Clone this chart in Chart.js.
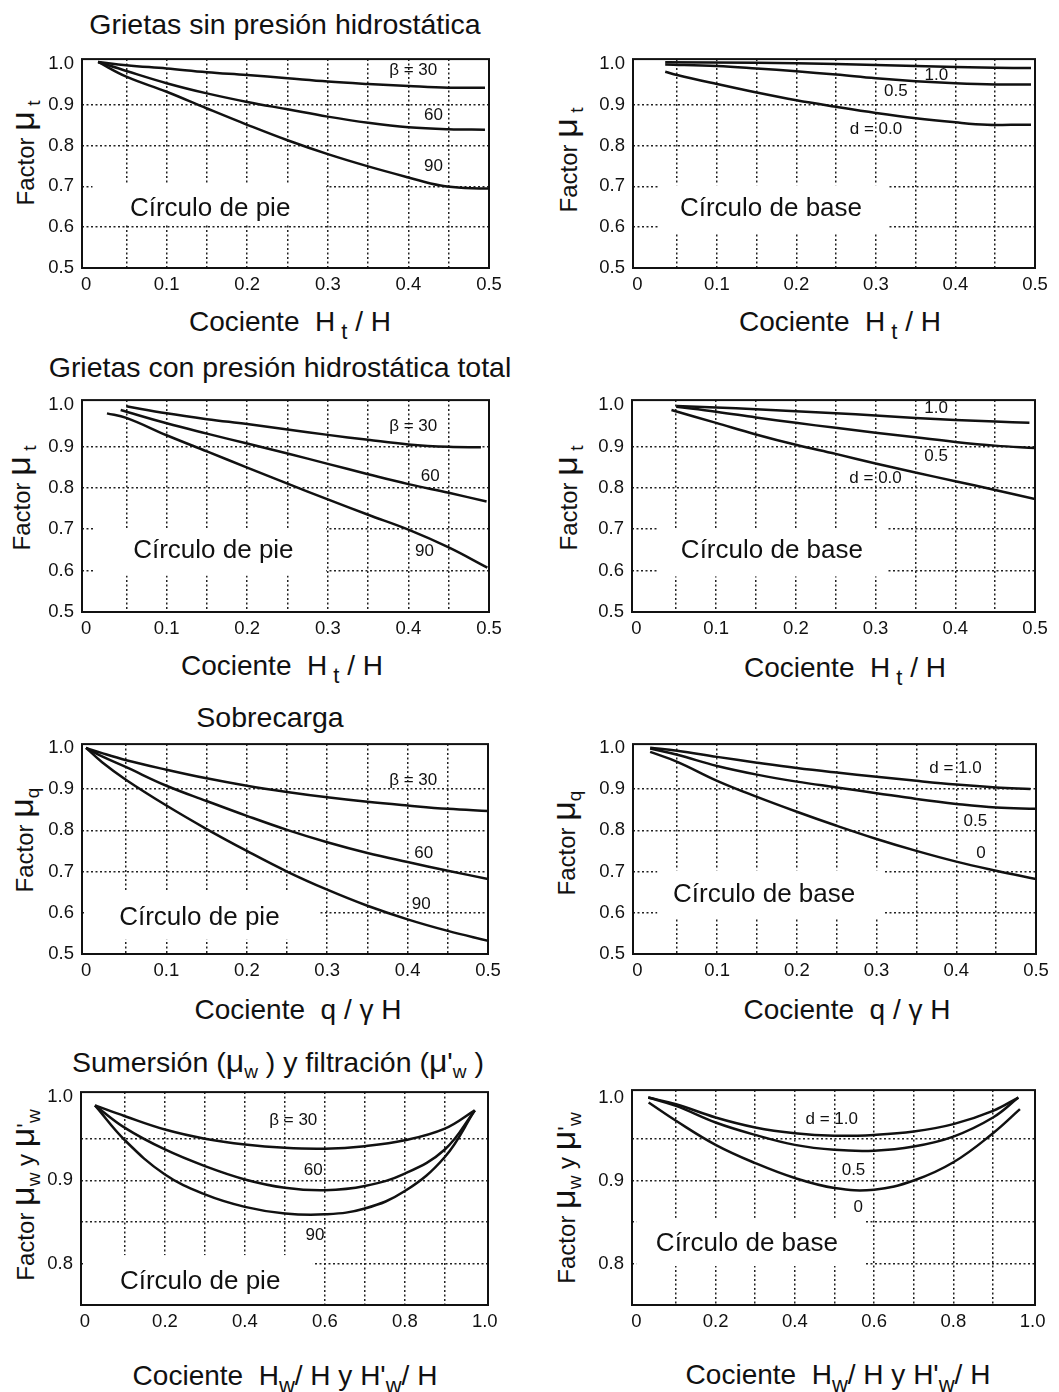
<!DOCTYPE html>
<html>
<head>
<meta charset="utf-8">
<script src="https://cdn.jsdelivr.net/npm/chart.js@4.4.0/dist/chart.umd.min.js"></script>
<style>
  body { margin: 0; background: #fff; }
  #page { position: relative; width: 1059px; height: 1392px; overflow: hidden; background: #fff; }
  canvas { position: absolute; }
  .t { position: absolute; white-space: nowrap; line-height: 1; color: #111;
       font-family: "Liberation Sans", Arial, sans-serif; transform: translate(-50%, -50%); }
  .ttl { font-size: 28.5px; }
  .xt { font-size: 28px; }
  .yt { font-size: 24px; transform: translate(-50%, -50%) rotate(-90deg); }
  .mu { font-size: 34px; }
  .mus { font-size: 32px; }
  .sb { font-size: 19px; position: relative; top: 6px; }
  .sbx { font-size: 22px; position: relative; top: 8px; }
</style>
</head>
<body>
<div id="page">
  <div class="t ttl" style="left:285px; top:24px;">Grietas sin presión hidrostática</div>
  <div class="t ttl" style="left:280px; top:367px;">Grietas con presión hidrostática total</div>
  <div class="t ttl" style="left:270px; top:717px;">Sobrecarga</div>
  <div class="t ttl" style="left:278px; top:1061px;">Sumersión (<span class="mus">μ</span><span class="sb">w</span> ) y filtración (<span class="mus">μ</span>'<span class="sb">w</span> )</div>

  <div class="t xt" style="left:290px; top:322px;">Cociente&nbsp; H<span class="sbx"> t</span> / H</div>
  <div class="t xt" style="left:840px; top:322px;">Cociente&nbsp; H<span class="sbx"> t</span> / H</div>
  <div class="t xt" style="left:282px; top:666px;">Cociente&nbsp; H<span class="sbx"> t</span> / H</div>
  <div class="t xt" style="left:845px; top:668px;">Cociente&nbsp; H<span class="sbx"> t</span> / H</div>
  <div class="t xt" style="left:298px; top:1010px;">Cociente&nbsp; q / γ H</div>
  <div class="t xt" style="left:847px; top:1010px;">Cociente&nbsp; q / γ H</div>
  <div class="t xt" style="left:285px; top:1376px;">Cociente&nbsp; H<span class="sbx">w</span>/ H y H'<span class="sbx">w</span>/ H</div>
  <div class="t xt" style="left:838px; top:1375px;">Cociente&nbsp; H<span class="sbx">w</span>/ H y H'<span class="sbx">w</span>/ H</div>

  <div class="t yt" style="left:22px; top:153px;">Factor <span class="mu">μ</span><span class="sb"> t</span></div>
  <div class="t yt" style="left:565px; top:160px;">Factor <span class="mu">μ</span><span class="sb"> t</span></div>
  <div class="t yt" style="left:18px; top:498px;">Factor <span class="mu">μ</span><span class="sb"> t</span></div>
  <div class="t yt" style="left:565px; top:498px;">Factor <span class="mu">μ</span><span class="sb"> t</span></div>
  <div class="t yt" style="left:21px; top:840px;">Factor <span class="mu">μ</span><span class="sb">q</span></div>
  <div class="t yt" style="left:563px; top:843px;">Factor <span class="mu">μ</span><span class="sb">q</span></div>
  <div class="t yt" style="left:22px; top:1195px;">Factor <span class="mu">μ</span><span class="sb">w</span> y <span class="mu">μ</span>'<span class="sb">w</span></div>
  <div class="t yt" style="left:563px; top:1198px;">Factor <span class="mu">μ</span><span class="sb">w</span> y <span class="mu">μ</span>'<span class="sb">w</span></div>
</div>
<script>
// ---- tick / grid values ----
const xLabelsHalf = [0, 0.1, 0.2, 0.3, 0.4, 0.5];
const xGridHalf = [0.05, 0.1, 0.15, 0.2, 0.25, 0.3, 0.35, 0.4, 0.45];
const yLabelsHalf = [0.5, 0.6, 0.7, 0.8, 0.9, 1.0];
const yGridHalf = [0.6, 0.7, 0.8, 0.9];
const xLabelsFull = [0, 0.2, 0.4, 0.6, 0.8, 1.0];
const xGridFull = [0.1, 0.2, 0.3, 0.4, 0.5, 0.6, 0.7, 0.8, 0.9];
const yLabelsQuarter = [0.8, 0.9, 1.0];
const yGridQuarter = [0.8, 0.85, 0.9, 0.95];

// ---- curves [x, y] ----
// grietas sin presion, circulo de pie (beta = 30, 60, 90)
const sinPie30 = [[0.015,1.005],[0.05,0.997],[0.1,0.989],[0.15,0.98],[0.2,0.973],[0.25,0.965],[0.3,0.957],[0.35,0.951],[0.4,0.946],[0.45,0.942],[0.495,0.942]];
const sinPie60 = [[0.015,1.005],[0.05,0.983],[0.1,0.953],[0.15,0.928],[0.2,0.907],[0.25,0.889],[0.3,0.871],[0.35,0.856],[0.4,0.845],[0.45,0.84],[0.495,0.839]];
const sinPie90 = [[0.015,1.005],[0.05,0.969],[0.1,0.932],[0.15,0.891],[0.2,0.851],[0.25,0.813],[0.3,0.779],[0.35,0.749],[0.4,0.722],[0.44,0.702],[0.47,0.696],[0.5,0.695]];
// grietas sin presion, circulo de base (d = 1.0, 0.5, 0.0)
const sinBase10 = [[0.035,1.004],[0.15,1.003],[0.25,1.0],[0.35,0.995],[0.45,0.991],[0.495,0.99]];
const sinBase05 = [[0.035,0.999],[0.1,0.995],[0.15,0.989],[0.2,0.982],[0.25,0.974],[0.3,0.965],[0.35,0.958],[0.4,0.953],[0.45,0.95],[0.495,0.95]];
const sinBase00 = [[0.035,0.981],[0.05,0.973],[0.1,0.951],[0.15,0.93],[0.2,0.911],[0.25,0.895],[0.3,0.88],[0.35,0.867],[0.4,0.857],[0.44,0.851],[0.47,0.851],[0.495,0.851]];
// grietas con presion total, circulo de pie
const conPie30 = [[0.05,0.997],[0.1,0.98],[0.15,0.966],[0.2,0.954],[0.25,0.941],[0.3,0.928],[0.35,0.916],[0.4,0.905],[0.45,0.899],[0.49,0.898]];
const conPie60 = [[0.043,0.988],[0.1,0.956],[0.15,0.931],[0.2,0.907],[0.25,0.883],[0.3,0.858],[0.35,0.833],[0.4,0.809],[0.45,0.788],[0.497,0.767]];
const conPie90 = [[0.026,0.98],[0.05,0.969],[0.1,0.927],[0.15,0.888],[0.2,0.849],[0.25,0.81],[0.3,0.772],[0.35,0.735],[0.4,0.699],[0.45,0.656],[0.498,0.607]];
// grietas con presion total, circulo de base
const conBase10 = [[0.05,0.998],[0.1,0.994],[0.15,0.99],[0.2,0.985],[0.25,0.98],[0.3,0.975],[0.35,0.969],[0.4,0.964],[0.45,0.96],[0.493,0.957]];
const conBase05 = [[0.05,0.996],[0.1,0.984],[0.15,0.97],[0.2,0.957],[0.25,0.945],[0.3,0.933],[0.35,0.922],[0.4,0.911],[0.45,0.902],[0.5,0.896]];
const conBase00 = [[0.044,0.988],[0.1,0.957],[0.15,0.929],[0.2,0.904],[0.25,0.882],[0.3,0.859],[0.35,0.837],[0.4,0.816],[0.45,0.795],[0.5,0.773]];
// sobrecarga, circulo de pie
const sobPie30 = [[0,1.0],[0.02,0.987],[0.05,0.97],[0.1,0.947],[0.15,0.926],[0.2,0.908],[0.25,0.893],[0.3,0.88],[0.35,0.869],[0.4,0.86],[0.45,0.852],[0.5,0.847]];
const sobPie60 = [[0,1.0],[0.02,0.979],[0.05,0.953],[0.1,0.908],[0.15,0.871],[0.2,0.835],[0.25,0.801],[0.3,0.771],[0.35,0.745],[0.4,0.723],[0.45,0.702],[0.5,0.682]];
const sobPie90 = [[0,1.0],[0.02,0.965],[0.05,0.922],[0.1,0.86],[0.15,0.803],[0.2,0.75],[0.25,0.7],[0.3,0.656],[0.35,0.617],[0.4,0.584],[0.45,0.556],[0.5,0.532]];
// sobrecarga, circulo de base
const sobBase10 = [[0.016,1.0],[0.05,0.993],[0.1,0.978],[0.15,0.964],[0.2,0.951],[0.25,0.94],[0.3,0.93],[0.35,0.92],[0.4,0.911],[0.45,0.904],[0.493,0.9]];
const sobBase05 = [[0.016,0.998],[0.05,0.983],[0.1,0.956],[0.15,0.935],[0.2,0.918],[0.25,0.904],[0.3,0.89],[0.35,0.876],[0.4,0.864],[0.45,0.855],[0.5,0.852]];
const sobBase00 = [[0.016,0.99],[0.05,0.966],[0.1,0.92],[0.15,0.881],[0.2,0.845],[0.25,0.811],[0.3,0.779],[0.35,0.75],[0.4,0.724],[0.45,0.702],[0.5,0.682]];
// sumersion y filtracion, circulo de pie
const sumPie30 = [[0.025,0.99],[0.1,0.977],[0.2,0.961],[0.3,0.95],[0.4,0.943],[0.5,0.939],[0.6,0.938],[0.7,0.941],[0.8,0.948],[0.9,0.962],[0.975,0.984]];
const sumPie60 = [[0.025,0.99],[0.1,0.963],[0.2,0.937],[0.3,0.917],[0.4,0.901],[0.5,0.891],[0.6,0.888],[0.7,0.893],[0.8,0.908],[0.9,0.937],[0.975,0.984]];
const sumPie90 = [[0.025,0.99],[0.1,0.948],[0.2,0.907],[0.3,0.883],[0.4,0.868],[0.5,0.86],[0.6,0.859],[0.7,0.866],[0.8,0.887],[0.9,0.928],[0.975,0.984]];
// sumersion y filtracion, circulo de base
const sumBase10 = [[0.03,1.0],[0.1,0.992],[0.2,0.976],[0.3,0.964],[0.4,0.957],[0.5,0.954],[0.6,0.955],[0.7,0.959],[0.8,0.968],[0.9,0.984],[0.964,1.0]];
const sumBase05 = [[0.03,1.0],[0.1,0.99],[0.2,0.97],[0.3,0.955],[0.4,0.943],[0.5,0.937],[0.6,0.936],[0.7,0.941],[0.8,0.953],[0.9,0.976],[0.964,1.0]];
const sumBase00 = [[0.031,0.994],[0.1,0.972],[0.2,0.943],[0.3,0.921],[0.4,0.903],[0.5,0.891],[0.6,0.889],[0.7,0.9],[0.8,0.922],[0.9,0.957],[0.968,0.986]];

// ---- panels ----
const half = { xLabels: xLabelsHalf, xGrid: xGridHalf, yLabels: yLabelsHalf, yGrid: yGridHalf, yMin: 0.5 };
const full = { xLabels: xLabelsFull, xGrid: xGridFull, yLabels: yLabelsQuarter, yGrid: yGridQuarter, yMin: 0.75 };

const panels = [
  { rect: [82, 52, 489, 268], axes: half, xMin: -0.005, xMax: 0.5, yMax: 1.012,
    series: [sinPie30, sinPie60, sinPie90], blank: [0.008, 0.298, 0.607, 0.706],
    notes: [['β = 30', 0.406, 0.985, 17], ['60', 0.431, 0.875, 17], ['90', 0.431, 0.749, 17], ['Círculo de pie', 0.154, 0.646, 26]] },
  { rect: [633, 52, 1035, 268], axes: half, xMin: -0.0055, xMax: 0.5, yMax: 1.012,
    series: [sinBase10, sinBase05, sinBase00], blank: [0.027, 0.315, 0.585, 0.703],
    notes: [['1.0', 0.376, 0.972, 17], ['0.5', 0.325, 0.933, 17], ['d = 0.0', 0.3, 0.839, 17], ['Círculo de base', 0.168, 0.646, 26]] },
  { rect: [82, 393, 489, 612], axes: half, xMin: -0.005, xMax: 0.5, yMax: 1.012,
    series: [conPie30, conPie60, conPie90], blank: [0.01, 0.298, 0.588, 0.703],
    notes: [['β = 30', 0.406, 0.949, 17], ['60', 0.427, 0.828, 17], ['90', 0.42, 0.647, 17], ['Círculo de pie', 0.158, 0.647, 26]] },
  { rect: [632, 393, 1035, 612], axes: half, xMin: -0.0055, xMax: 0.5, yMax: 1.012,
    series: [conBase10, conBase05, conBase00], blank: [0.028, 0.315, 0.586, 0.703],
    notes: [['1.0', 0.376, 0.991, 17], ['0.5', 0.376, 0.875, 17], ['d = 0.0', 0.3, 0.824, 17], ['Círculo de base', 0.17, 0.647, 26]] },
  { rect: [82, 737, 488, 954], axes: half, xMin: -0.005, xMax: 0.5, yMax: 1.009,
    series: [sobPie30, sobPie60, sobPie90], blank: [0.0, 0.29, 0.535, 0.652],
    notes: [['β = 30', 0.407, 0.92, 17], ['60', 0.42, 0.744, 17], ['90', 0.417, 0.62, 17], ['Círculo de pie', 0.141, 0.588, 26]] },
  { rect: [633, 737, 1036, 954], axes: half, xMin: -0.0055, xMax: 0.5, yMax: 1.009,
    series: [sobBase10, sobBase05, sobBase00], blank: [0.025, 0.31, 0.585, 0.703],
    notes: [['d = 1.0', 0.399, 0.951, 17], ['0.5', 0.424, 0.822, 17], ['0', 0.431, 0.744, 17], ['Círculo de base', 0.159, 0.644, 26]] },
  { rect: [81, 1085, 488, 1305], axes: full, xMin: -0.01, xMax: 1.008, yMax: 1.006,
    series: [sumPie30, sumPie60, sumPie90], blank: [0.0, 0.57, 0.75, 0.81],
    notes: [['β = 30', 0.521, 0.972, 17], ['60', 0.571, 0.912, 17], ['90', 0.575, 0.834, 17], ['Círculo de pie', 0.288, 0.778, 26]] },
  { rect: [632, 1083, 1035, 1305], axes: full, xMin: -0.011, xMax: 1.006, yMax: 1.009,
    series: [sumBase10, sumBase05, sumBase00], blank: [0.0, 0.575, 0.797, 0.855],
    notes: [['d = 1.0', 0.493, 0.974, 17], ['0.5', 0.548, 0.912, 17], ['0', 0.56, 0.868, 17], ['Círculo de base', 0.279, 0.824, 26]] }
];

const FONT = '"Liberation Sans", Arial, sans-serif';
const PAD_L = 70, PAD_T = 12, PAD_R = 24, XAX_H = 34;

const near = (list, v) => list.some(g => Math.abs(g - v) < 1e-9);
const allTicks = (a, b) => a.concat(b).filter((v, i, arr) => arr.findIndex(w => Math.abs(w - v) < 1e-9) === i).sort((p, q) => p - q);

const framePlugin = {
  id: 'frame',
  beforeDatasetsDraw(chart, args, opts) {
    const { ctx, scales: { x, y } } = chart;
    const b = opts.blank;
    const x0 = x.getPixelForValue(b[0]), x1 = x.getPixelForValue(b[1]);
    const y0 = y.getPixelForValue(b[3]), y1 = y.getPixelForValue(b[2]);
    ctx.save();
    ctx.fillStyle = '#fff';
    ctx.fillRect(x0, y0, x1 - x0, y1 - y0);
    ctx.restore();
  },
  afterDatasetsDraw(chart, args, opts) {
    const { ctx, chartArea: a, scales: { x, y } } = chart;
    ctx.save();
    ctx.fillStyle = '#111';
    ctx.textAlign = 'center';
    ctx.textBaseline = 'middle';
    opts.notes.forEach(([txt, nx, ny, size]) => {
      ctx.font = size + 'px ' + FONT;
      ctx.fillText(txt, x.getPixelForValue(nx), y.getPixelForValue(ny));
    });
    ctx.strokeStyle = '#111';
    ctx.lineWidth = 2;
    ctx.strokeRect(a.left, a.top, a.right - a.left, a.bottom - a.top);
    ctx.restore();
  }
};

const page = document.getElementById('page');

panels.forEach((p, i) => {
  const [L, T, R, B] = p.rect;
  const cv = document.createElement('canvas');
  cv.width = R - L + PAD_L + PAD_R;
  cv.height = B - T + PAD_T + XAX_H;
  cv.style.left = (L - PAD_L) + 'px';
  cv.style.top = (T - PAD_T) + 'px';
  page.appendChild(cv);

  const ax = p.axes;
  const xVals = allTicks(ax.xLabels, ax.xGrid);
  const yVals = allTicks(ax.yLabels, ax.yGrid);

  new Chart(cv, {
    type: 'line',
    data: {
      datasets: p.series.map(s => ({
        data: s.map(([x, y]) => ({ x, y })),
        borderColor: '#111',
        borderWidth: 2.5,
        pointRadius: 0,
        fill: false,
        tension: 0.4
      }))
    },
    options: {
      responsive: false,
      animation: false,
      devicePixelRatio: 1,
      layout: { padding: { left: 0, top: PAD_T, right: PAD_R, bottom: 0 } },
      plugins: {
        legend: { display: false },
        tooltip: { enabled: false },
        frame: { blank: p.blank, notes: p.notes }
      },
      scales: {
        x: {
          type: 'linear',
          min: p.xMin,
          max: p.xMax,
          afterBuildTicks: s => { s.ticks = xVals.map(v => ({ value: v })); },
          afterFit: s => { s.height = XAX_H; },
          ticks: {
            autoSkip: false, maxRotation: 0, padding: 6, color: '#111',
            font: { family: FONT, size: 18.5 },
            callback: v => near(ax.xLabels, v) ? (Math.abs(v) < 1e-9 ? '0' : v.toFixed(1)) : ''
          },
          grid: {
            drawTicks: false, lineWidth: 1.5,
            color: c => (c.tick && near(ax.xGrid, c.tick.value)) ? '#222' : 'rgba(0,0,0,0)'
          },
          border: { display: false, dash: [2, 2.5] }
        },
        y: {
          type: 'linear',
          min: ax.yMin,
          max: p.yMax,
          afterBuildTicks: s => { s.ticks = yVals.map(v => ({ value: v })); },
          afterFit: s => { s.width = PAD_L; },
          ticks: {
            autoSkip: false, padding: 8, color: '#111',
            font: { family: FONT, size: 18.5 },
            callback: v => near(ax.yLabels, v) ? v.toFixed(1) : ''
          },
          grid: {
            drawTicks: false, lineWidth: 1.5,
            color: c => (c.tick && near(ax.yGrid, c.tick.value)) ? '#222' : 'rgba(0,0,0,0)'
          },
          border: { display: false, dash: [2, 2.5] }
        }
      }
    },
    plugins: [framePlugin]
  });
});
</script>
</body>
</html>
